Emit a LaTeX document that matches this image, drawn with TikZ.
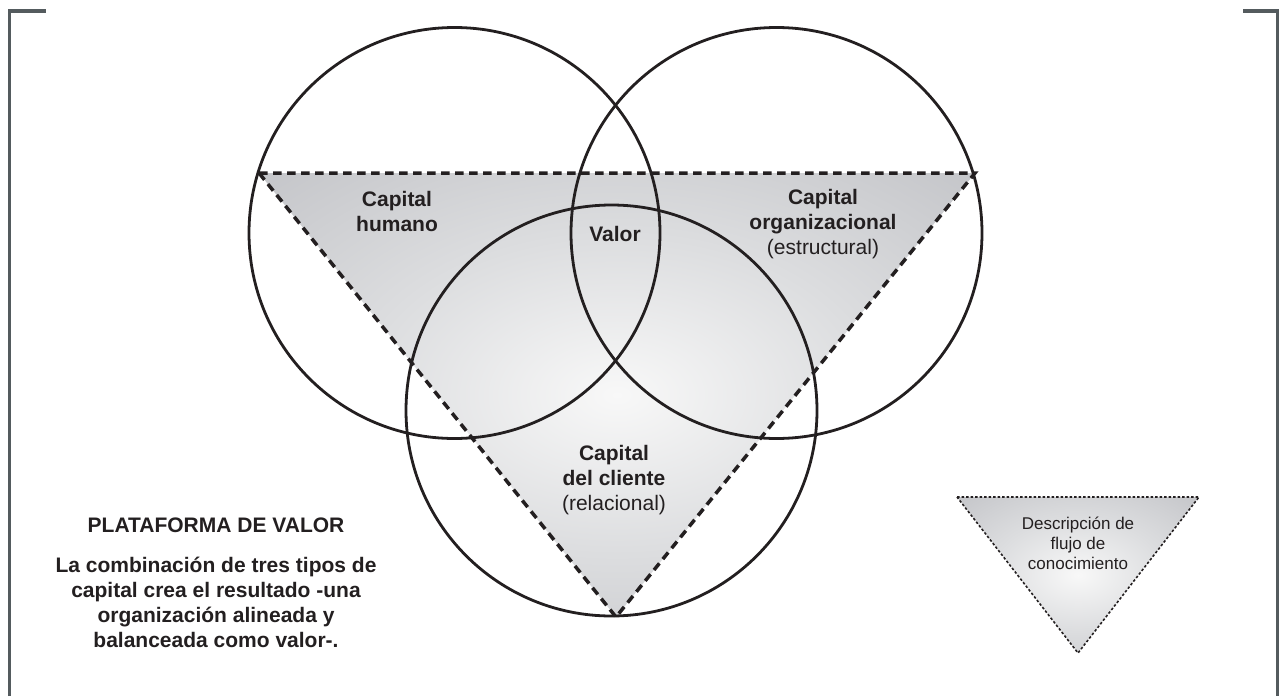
\documentclass[tikz,border=0pt]{standalone}
\usepackage{fontspec}
\setmainfont{Liberation Sans}
\usepackage{tikz}
\definecolor{framegray}{RGB}{84,91,94}
\definecolor{inkblack}{RGB}{35,31,32}
\definecolor{shadeA}{RGB}{248,248,248}
\definecolor{shadeB}{RGB}{220,221,223}
\definecolor{shadeC}{RGB}{193,194,198}
\definecolor{shadeD}{RGB}{162,163,168}
\definecolor{shadeE}{RGB}{144,145,150}
\pgfdeclareradialshading{valorshade}{\pgfpoint{0bp}{0bp}}{color(0bp)=(shadeA); color(18bp)=(shadeB); color(38bp)=(shadeC); color(55bp)=(shadeD); color(72bp)=(shadeE)}
\tikzstyle{ring} = [circle, draw=inkblack, line width=2.8pt, minimum size=411pt, inner sep=0pt]
\tikzstyle{bigedge} = [draw=inkblack, line width=3.5pt, dash pattern=on 8.5pt off 5.5pt]
\tikzstyle{smalledge} = [draw=inkblack, line width=1.6pt, dash pattern=on 2.5pt off 2pt]
\tikzstyle{framebar} = [draw=framegray, line width=3.4pt]
\tikzstyle{boldlabel} = [align=center, text=inkblack, font=\fontsize{21}{25}\selectfont\bfseries]
\tikzstyle{notelabel} = [align=center, text=inkblack, font=\fontsize{17}{20}\selectfont]

\begin{document}
\begin{tikzpicture}[x=1pt, y=-1pt]
	\useasboundingbox (0,0) rectangle (1279,696);
	\coordinate (frame_left_bottom) at (9.5,696);
	\coordinate (frame_left_top) at (9.5,11);
	\coordinate (frame_left_end) at (45.5,11);
	\coordinate (frame_right_end) at (1243,11);
	\coordinate (frame_right_top) at (1277.5,11);
	\coordinate (frame_right_bottom) at (1277.5,696);
	\draw[framebar] (frame_left_bottom) -- (frame_left_top) -- (frame_left_end);
	\draw[framebar] (frame_right_end) -- (frame_right_top) -- (frame_right_bottom);
	
	\coordinate (tri_left) at (259,173);
	\coordinate (tri_right) at (975,173);
	\coordinate (tri_apex) at (616,617);
	\shade[shading=valorshade] (tri_left) -- (tri_right) -- (tri_apex) -- cycle;
	
	\node[ring](circ_humano) at (454.5,233){};
	\node[ring](circ_organizacional) at (776.5,233){};
	\node[ring](circ_cliente) at (611.5,410.5){};
	
	\draw[bigedge] (tri_left) -- (tri_right) -- (tri_apex) -- cycle;
	
	\node[boldlabel](humano) at (397,211){Capital\\humano};
	\node[boldlabel](valor) at (615,234){Valor};
	\node[boldlabel](organizacional) at (823,224){Capital\\organizacional\\{\mdseries (estructural)}};
	\node[boldlabel](cliente) at (614,480){Capital\\del cliente\\{\mdseries (relacional)}};
	
	\node[boldlabel](plataforma_title) at (216,525){PLATAFORMA DE VALOR};
	\node[boldlabel](plataforma_text) at (216,602){La combinación de tres tipos de\\capital crea el resultado -una\\organización alineada y\\balanceada como valor-.};
	
	\coordinate (key_left) at (957,497);
	\coordinate (key_right) at (1199,497);
	\coordinate (key_apex) at (1078,653);
	\shade[shading=valorshade] (key_left) -- (key_right) -- (key_apex) -- cycle;
	\draw[smalledge] (key_left) -- (key_right) -- (key_apex) -- cycle;
	\node[notelabel](key_text) at (1078,543){Descripción de\\flujo de\\conocimiento};
\end{tikzpicture}
\end{document}
